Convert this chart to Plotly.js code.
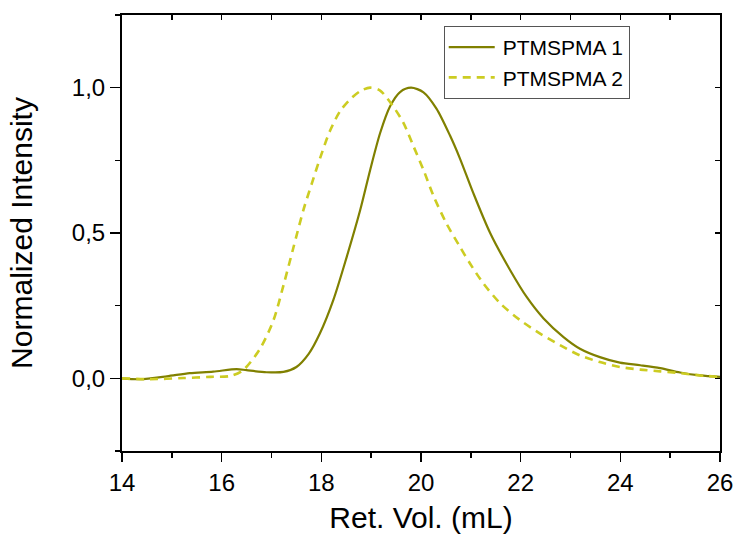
<!DOCTYPE html>
<html>
<head>
<meta charset="utf-8">
<script src="https://cdn.plot.ly/plotly-3.0.1.min.js"></script>
<style>html,body{margin:0;padding:0;background:#fff;}#chart{width:734px;height:540px;}</style>
</head>
<body>
<div id="chart"></div>
<script>
// Series 1: PTMSPMA 1 (solid)
var vol1 = [14.0, 14.36, 14.9, 15.36, 15.83, 16.3, 16.5, 16.9, 17.24, 17.5, 17.75, 17.97, 18.24, 18.51, 18.78, 18.98, 19.18, 19.38, 19.58, 19.8, 20.05, 20.31, 20.58, 20.78, 21.05, 21.39, 21.79, 22.12, 22.46, 22.86, 23.19, 23.59, 23.99, 24.4, 24.8, 25.2, 25.6, 26.0];
var int1 = [0.0, -0.003, 0.007, 0.018, 0.023, 0.032, 0.028, 0.021, 0.022, 0.039, 0.085, 0.154, 0.269, 0.418, 0.579, 0.717, 0.844, 0.936, 0.985, 1.0, 0.984, 0.928, 0.836, 0.757, 0.637, 0.499, 0.372, 0.28, 0.206, 0.142, 0.102, 0.073, 0.054, 0.045, 0.035, 0.02, 0.01, 0.005];
// Series 2: PTMSPMA 2 (dashed)
var vol2 = [14.0, 14.56, 15.23, 15.77, 16.17, 16.43, 16.77, 17.04, 17.24, 17.44, 17.64, 17.81, 17.97, 18.17, 18.38, 18.61, 18.8, 18.98, 19.18, 19.44, 19.65, 19.85, 20.05, 20.25, 20.51, 20.78, 20.98, 21.25, 21.59, 21.99, 22.39, 22.79, 23.19, 23.59, 23.99, 24.4, 24.8, 25.2, 25.6, 26.0];
var int2 = [0.0, -0.003, 0.001, 0.005, 0.008, 0.028, 0.102, 0.2, 0.32, 0.45, 0.579, 0.671, 0.755, 0.85, 0.92, 0.965, 0.99, 1.0, 0.99, 0.936, 0.878, 0.798, 0.717, 0.628, 0.533, 0.453, 0.396, 0.327, 0.258, 0.2, 0.154, 0.114, 0.079, 0.056, 0.039, 0.03, 0.024, 0.018, 0.01, 0.005];
var names = ['PTMSPMA 1', 'PTMSPMA 2'];
var yTickVals = [0, 0.5, 1.0];
var yTickText = ['0,0', '0,5', '1,0'];
var xTickVals = [14, 16, 18, 20, 22, 24, 26];
var xTickText = ['14', '16', '18', '20', '22', '24', '26'];

var font = 'Liberation Sans, Arial, sans-serif';
var traces = [
  {x: vol1, y: int1, name: names[0], type: 'scatter', mode: 'lines',
   line: {color: '#808000', width: 2.2, shape: 'spline', smoothing: 0.8}},
  {x: vol2, y: int2, name: names[1], type: 'scatter', mode: 'lines',
   line: {color: '#CCCC22', width: 2.6, dash: '8px,6px', shape: 'spline', smoothing: 0.8}},
  {x: [14, 26], y: [0, 0], xaxis: 'x2', yaxis: 'y2', mode: 'lines', showlegend: false,
   hoverinfo: 'skip', line: {color: 'rgba(0,0,0,0)'}}
];
var layout = {
  width: 734, height: 540,
  margin: {l: 122, r: 14, t: 15, b: 89},
  paper_bgcolor: '#fff', plot_bgcolor: '#fff',
  font: {family: font, color: '#000'},
  showlegend: true,
  legend: {x: 0.538, y: 0.975, xanchor: 'left', yanchor: 'top',
    bordercolor: '#555', borderwidth: 1, bgcolor: '#fff', itemwidth: 48,
    font: {family: font, size: 21, color: '#000'}, tracegroupgap: 0},
  xaxis: {range: [14, 26], tickvals: xTickVals, ticktext: xTickText,
    ticks: 'outside', ticklen: 9, tickwidth: 1.5, tickcolor: '#000',
    minor: {dtick: 1, tick0: 14, ticks: 'outside', ticklen: 5, tickwidth: 1.5, tickcolor: '#000'},
    showline: true, linewidth: 2, linecolor: '#000', mirror: true,
    showgrid: false, zeroline: false,
    tickfont: {family: font, size: 24, color: '#000'},
    title: {text: 'Ret. Vol. (mL)', font: {family: font, size: 30, color: '#000'}, standoff: 12}},
  yaxis: {range: [-0.25, 1.25], tickvals: yTickVals, ticktext: yTickText,
    ticks: 'outside', ticklen: 10, tickwidth: 1.5, tickcolor: '#000',
    minor: {dtick: 0.25, tick0: 0, ticks: 'outside', ticklen: 5, tickwidth: 1.5, tickcolor: '#000'},
    showline: true, linewidth: 2, linecolor: '#000', mirror: true,
    showgrid: false, zeroline: false,
    tickfont: {family: font, size: 24, color: '#000'},
    title: {text: 'Normalized Intensity', font: {family: font, size: 30, color: '#000'}, standoff: 30}},
  xaxis2: {range: [14, 26], overlaying: 'x', side: 'top', anchor: 'y2',
    dtick: 1, tick0: 14, ticks: 'inside', ticklen: 5, tickwidth: 1.5, tickcolor: '#000',
    showticklabels: false, showgrid: false, zeroline: false, showline: false},
  yaxis2: {range: [-0.25, 1.25], overlaying: 'y', side: 'right', anchor: 'x2',
    dtick: 0.25, tick0: 0, ticks: 'inside', ticklen: 5, tickwidth: 1.5, tickcolor: '#000',
    showticklabels: false, showgrid: false, zeroline: false, showline: false}
};
Plotly.newPlot('chart', traces, layout, {staticPlot: true, displayModeBar: false}).then(function () {
  // lengthen the legend line samples to fill the wider symbol area
  document.querySelectorAll('#chart .legend .legendlines path').forEach(function (p) {
    p.setAttribute('d', 'M4,0h46');
  });
});
</script>
</body>
</html>
